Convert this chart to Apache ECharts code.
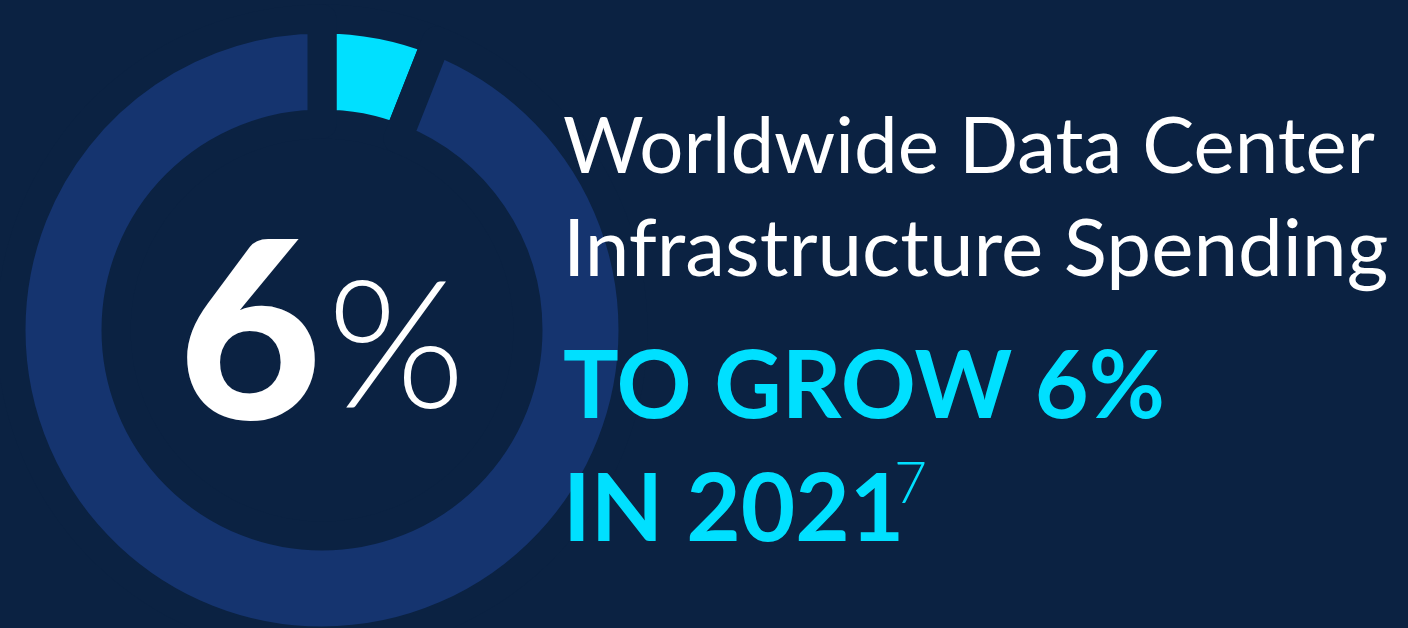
<!DOCTYPE html>
<html>
<head>
<meta charset="utf-8">
<script src="https://cdn.jsdelivr.net/npm/echarts@6/dist/echarts.min.js"></script>
<style>
html,body{margin:0;padding:0;background:#0b2242;}
#chart{width:1408px;height:628px;}
</style>
</head>
<body>
<div id="chart"></div>
<script>
const categories = ['2021 growth', 'Remainder'];
const values = [6, 94];
const headline = ['Worldwide Data Center', 'Infrastructure Spending'];
const highlight = ['TO GROW 6%', 'IN 2021'];
const footnote = '7';
const bigValue = '6';
const bigUnit = '%';

const BG = '#0b2242';
const RING = '#15346f';
const CYAN = '#00e0ff';

const chart = echarts.init(document.getElementById('chart'), null, {renderer: 'canvas'});
chart.setOption({
  backgroundColor: BG,
  animation: false,
  series: [{
    type: 'pie',
    silent: true,
    z: 1,
    center: [322, 330],
    radius: [206, 311],
    startAngle: 90,
    clockwise: true,
    label: {show: false},
    labelLine: {show: false},
    emphasis: {disabled: true},
    itemStyle: {borderWidth: 29, borderColor: BG},
    data: categories.map((c, i) => ({
      name: c, value: values[i],
      itemStyle: {color: i === 0 ? CYAN : RING}
    }))
  }],
  graphic: {
    elements: [
      {type: 'text', z: 100, x: 563, y: 148, style: {text: headline[0], fill: '#ffffff', font: '400 78px Lato', textVerticalAlign: 'middle'}},
      {type: 'text', z: 100, x: 563, y: 250, style: {text: headline[1], fill: '#ffffff', font: '400 80px Lato', textVerticalAlign: 'middle'}},
      {type: 'text', z: 100, x: 563, y: 388, style: {text: highlight[0], fill: CYAN, font: '700 93px Lato', textVerticalAlign: 'middle'}},
      {type: 'text', z: 100, x: 563, y: 511, style: {text: highlight[1], fill: CYAN, font: '700 94px Lato', textVerticalAlign: 'middle'}},
      {type: 'text', z: 100, x: 894, y: 485, style: {text: footnote, fill: CYAN, font: '300 57px Lato', textVerticalAlign: 'middle'}},
      {type: 'text', z: 100, x: 178, y: 339, style: {text: bigValue, fill: '#ffffff', font: '900 248px Lato', textVerticalAlign: 'middle'}},
      {type: 'text', z: 100, x: 327, y: 350, style: {text: bigUnit, fill: '#ffffff', font: '300 178px Lato', textVerticalAlign: 'middle'}}
    ]
  }
});
</script>
</body>
</html>
